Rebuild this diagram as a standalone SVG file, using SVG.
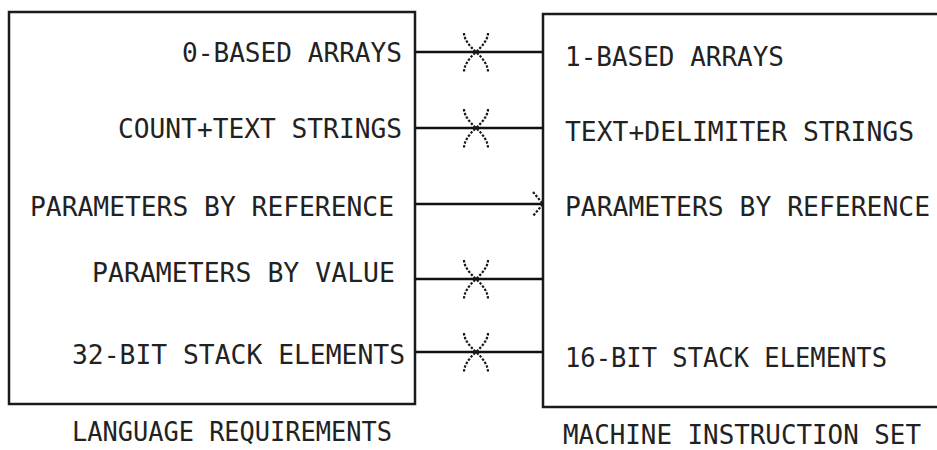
<svg xmlns="http://www.w3.org/2000/svg" width="937" height="450" viewBox="0 0 937 450">
<style>
.box{fill:none;stroke:#1a1a1a;stroke-width:2.5}
.ln{fill:none;stroke:#111;stroke-width:2.5}
.x{fill:none;stroke:#1a1a1a;stroke-width:2.2;stroke-dasharray:2.5 1.5}
.t{font-family:"DejaVu Sans Mono","Liberation Mono",monospace;font-size:26px;fill:#222}
</style>
<defs>
<path id="cross" class="x" d="M-12,-19 Q-12,-11 0,0 Q-12,11 -12,20 M12,-19 Q12,-11 0,0 Q12,11 12,20"/>
</defs>
<rect width="937" height="450" fill="#fff"/>
<g id="language-requirements">
<rect class="box" x="9" y="12" width="406" height="392"/>
<text class="t" x="182" y="62" textLength="220" lengthAdjust="spacingAndGlyphs">0-BASED ARRAYS</text>
<text class="t" x="118" y="138" textLength="284" lengthAdjust="spacingAndGlyphs">COUNT+TEXT STRINGS</text>
<text class="t" x="30" y="216" textLength="364" lengthAdjust="spacingAndGlyphs">PARAMETERS BY REFERENCE</text>
<text class="t" x="92" y="282" textLength="303" lengthAdjust="spacingAndGlyphs">PARAMETERS BY VALUE</text>
<text class="t" x="72" y="364" textLength="333" lengthAdjust="spacingAndGlyphs">32-BIT STACK ELEMENTS</text>
<text class="t" x="72" y="441" textLength="320" lengthAdjust="spacingAndGlyphs">LANGUAGE REQUIREMENTS</text>
</g>
<g id="machine-instruction-set">
<rect class="box" x="543" y="14" width="410" height="393"/>
<text class="t" x="565" y="66" textLength="219" lengthAdjust="spacingAndGlyphs">1-BASED ARRAYS</text>
<text class="t" x="565" y="141" textLength="349" lengthAdjust="spacingAndGlyphs">TEXT+DELIMITER STRINGS</text>
<text class="t" x="565" y="216" textLength="365" lengthAdjust="spacingAndGlyphs">PARAMETERS BY REFERENCE</text>
<text class="t" x="565" y="367" textLength="322" lengthAdjust="spacingAndGlyphs">16-BIT STACK ELEMENTS</text>
<text class="t" x="563" y="444" textLength="358" lengthAdjust="spacingAndGlyphs">MACHINE INSTRUCTION SET</text>
</g>
<g id="connectors">
<line class="ln" x1="415" y1="52" x2="543" y2="52"/>
<use href="#cross" x="476" y="52"/>
<line class="ln" x1="415" y1="128" x2="543" y2="128"/>
<use href="#cross" x="476" y="128"/>
<line class="ln" x1="415" y1="204" x2="543" y2="204"/>
<path class="x" d="M533,192 L543,204 L533,216"/>
<line class="ln" x1="415" y1="279" x2="543" y2="279"/>
<use href="#cross" x="476" y="279"/>
<line class="ln" x1="415" y1="352" x2="543" y2="352"/>
<use href="#cross" x="476" y="352"/>
</g>
</svg>
